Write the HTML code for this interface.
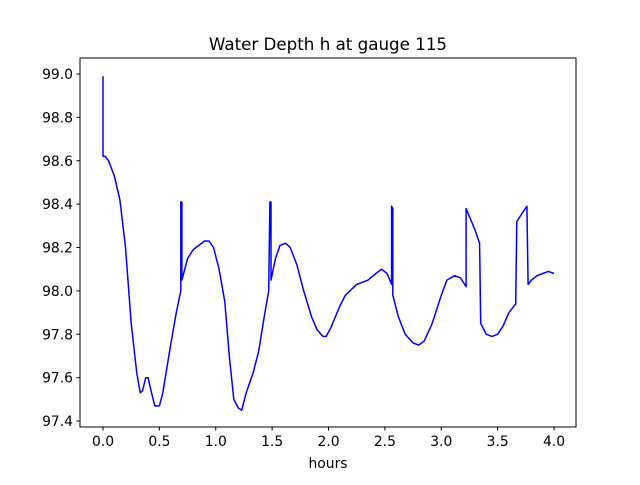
<!DOCTYPE html>
<html><head><meta charset="utf-8"><style>
body{margin:0;background:#fff;font-family:"Liberation Sans","DejaVu Sans",sans-serif;}
</style></head><body>
<svg id="chart" width="640" height="480" xmlns="http://www.w3.org/2000/svg" font-family="DejaVu Sans, Liberation Sans, sans-serif">
<rect width="640" height="480" fill="#fff"/>
<text x="328" y="50" text-anchor="middle" font-size="16.7">Water Depth h at gauge 115</text>
<g id="plot"></g>
<rect x="80" y="58" width="496" height="369" fill="none" stroke="#000" stroke-width="1"/>
<text x="328" y="468" text-anchor="middle" font-size="13.9">hours</text>
</svg>
<script>
const hours=[0,0,0.02,0.05,0.1,0.15,0.2,0.25,0.3,0.33,0.35,0.38,0.4,0.43,0.46,0.5,0.53,0.6,0.65,0.69,0.69,0.7,0.7,0.75,0.8,0.85,0.9,0.94,0.98,1.03,1.08,1.12,1.16,1.2,1.23,1.27,1.33,1.38,1.43,1.47,1.48,1.49,1.49,1.53,1.57,1.62,1.66,1.72,1.78,1.85,1.9,1.95,1.98,2.02,2.1,2.15,2.25,2.35,2.42,2.47,2.52,2.56,2.56,2.57,2.57,2.62,2.68,2.75,2.8,2.85,2.92,3.0,3.05,3.12,3.17,3.22,3.22,3.3,3.34,3.35,3.4,3.45,3.5,3.55,3.6,3.66,3.67,3.72,3.76,3.77,3.8,3.85,3.9,3.95,4.0];
const depth=[98.99,98.62,98.62,98.60,98.53,98.42,98.2,97.85,97.62,97.53,97.54,97.6,97.6,97.53,97.47,97.47,97.53,97.75,97.9,98.0,98.41,98.41,98.05,98.15,98.19,98.21,98.23,98.23,98.2,98.1,97.95,97.7,97.5,97.46,97.45,97.53,97.62,97.72,97.88,98.0,98.41,98.41,98.05,98.15,98.21,98.22,98.2,98.12,98.0,97.88,97.82,97.79,97.79,97.83,97.93,97.98,98.03,98.05,98.08,98.1,98.08,98.03,98.39,98.38,97.98,97.88,97.8,97.76,97.75,97.77,97.85,97.98,98.05,98.07,98.06,98.02,98.38,98.28,98.22,97.85,97.8,97.79,97.8,97.84,97.9,97.94,98.32,98.36,98.39,98.03,98.05,98.07,98.08,98.09,98.08];
const xTicks=[0,0.5,1,1.5,2,2.5,3,3.5,4];
const yTicks=[97.4,97.6,97.8,98.0,98.2,98.4,98.6,98.8,99.0];
const xs=v=>103+v*112.75;
const ys=v=>74+(99.0-v)*216.9;
const NS="http://www.w3.org/2000/svg";
const g=document.getElementById('plot');
let d=hours.map((h,i)=>(i?'L':'M')+xs(h).toFixed(1)+' '+ys(depth[i]).toFixed(1)).join(' ');
const p=document.createElementNS(NS,'path');
p.setAttribute('d',d);p.setAttribute('fill','none');p.setAttribute('stroke','#0000ff');p.setAttribute('stroke-width','1.5');p.setAttribute('stroke-linejoin','round');


g.appendChild(p);
xTicks.forEach(t=>{
 const l=document.createElementNS(NS,'line');
 l.setAttribute('x1',xs(t));l.setAttribute('x2',xs(t));l.setAttribute('y1',427);l.setAttribute('y2',430.5);l.setAttribute('stroke','#000');
 
 
 g.appendChild(l);
 const tx=document.createElementNS(NS,'text');
 tx.setAttribute('x',xs(t));tx.setAttribute('y',446);tx.setAttribute('text-anchor','middle');tx.setAttribute('font-size','13.9');
 tx.textContent=t.toFixed(1);
 
 
 g.appendChild(tx);
});
yTicks.forEach(t=>{
 const l=document.createElementNS(NS,'line');
 l.setAttribute('x1',76.5);l.setAttribute('x2',80);l.setAttribute('y1',ys(t));l.setAttribute('y2',ys(t));l.setAttribute('stroke','#000');
 
 
 g.appendChild(l);
 const tx=document.createElementNS(NS,'text');
 tx.setAttribute('x',73);tx.setAttribute('y',ys(t)+5);tx.setAttribute('text-anchor','end');tx.setAttribute('font-size','13.9');
 tx.textContent=t.toFixed(1);
 
 
 g.appendChild(tx);
});
</script>
</body></html>
